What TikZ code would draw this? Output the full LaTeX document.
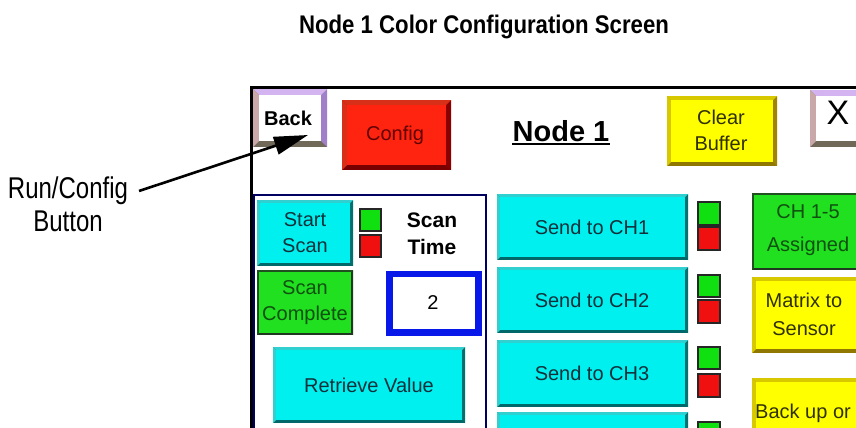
\documentclass[tikz,border=0pt]{standalone}
\usepackage{fontspec}
\setmainfont{Liberation Sans}
\newfontfamily\titlefont[FakeStretch=0.87]{Liberation Sans}
\newfontfamily\labelfont[FakeStretch=0.8]{Liberation Sans}
\usetikzlibrary{arrows.meta}
% colours
\definecolor{cyF}{HTML}{00F0F0}\definecolor{cyT}{HTML}{30D0D0}\definecolor{cyL}{HTML}{30D0D0}\definecolor{cyR}{HTML}{007070}\definecolor{cyB}{HTML}{006868}
\definecolor{rdF}{HTML}{FF2410}\definecolor{rdT}{HTML}{D83018}\definecolor{rdL}{HTML}{D83018}\definecolor{rdR}{HTML}{8A0000}\definecolor{rdB}{HTML}{780000}
\definecolor{ylF}{HTML}{FFFF00}\definecolor{ylT}{HTML}{D8C800}\definecolor{ylL}{HTML}{D8C800}\definecolor{ylR}{HTML}{A08400}\definecolor{ylB}{HTML}{907800}
\definecolor{wtF}{HTML}{FFFFFF}\definecolor{wtT}{HTML}{D4B4F0}\definecolor{wtL}{HTML}{C8A8A8}\definecolor{wtR}{HTML}{A080C8}\definecolor{wtB}{HTML}{706858}
\definecolor{gnF}{HTML}{20E020}\definecolor{gnT}{HTML}{205020}\definecolor{gnL}{HTML}{205020}\definecolor{gnR}{HTML}{203820}\definecolor{gnB}{HTML}{203820}
\definecolor{sqG}{HTML}{10E010}\definecolor{sqR}{HTML}{F01010}
\definecolor{navy}{HTML}{000060}\definecolor{boxblue}{HTML}{0818E8}
\definecolor{txcy}{HTML}{10303A}\definecolor{txrd}{HTML}{600000}\definecolor{txyl}{HTML}{303000}\definecolor{txgn}{HTML}{105010}
% bevelled button: x1 y1 x2 y2 bevel colourprefix
\newcommand\bevbox[6]{%
  \fill[#6B] (#1,#2) rectangle (#3,#4);
  \fill[#6R] (#3,#2) -- (#3,#4) -- (#3-#5,#4-#5) -- (#3-#5,#2+#5) -- cycle;
  \fill[#6T] (#1,#2) -- (#3,#2) -- (#3-#5,#2+#5) -- (#1+#5,#2+#5) -- cycle;
  \fill[#6L] (#1,#2) -- (#1+#5,#2+#5) -- (#1+#5,#4-#5) -- (#1,#4) -- cycle;
  \fill[#6F] (#1+#5,#2+#5) rectangle (#3-#5,#4-#5);
}
\tikzset{
  btxt/.style={inner sep=0pt, align=center, font=\fontsize{20}{26}\selectfont},
  sq/.style={draw=black!85, line width=1.2pt},
}
\begin{document}
\begin{tikzpicture}[x=1pt,y=-1pt]
\useasboundingbox (0,0) rectangle (856,428);
\clip (0,0) rectangle (856,428);
\fill[white] (0,0) rectangle (856,428);

% title
\node[inner sep=0pt] (title) at (484,27) {\titlefont\bfseries\fontsize{25.5}{30}\selectfont Node 1 Color Configuration Screen};

% screen frame
\draw[line width=3pt] (251,470) -- (251,87) -- (900,87);

% top row buttons
\bevbox{253}{89}{327}{147}{6}{wt}
\node[btxt, font=\fontsize{20}{24}\selectfont\bfseries] (back) at (288,118) {Back};
\bevbox{342}{100}{451}{170}{5}{rd}
\node[btxt, text=txrd] (config) at (395,135) {Config};
\node[inner sep=0pt, font=\fontsize{29}{34}\selectfont\bfseries] (node1) at (561,131) {Node 1};
\draw[line width=2pt] ([yshift=-3pt]node1.base west) -- ([yshift=-3pt]node1.base east);
\bevbox{667}{96}{777}{166}{4}{yl}
\node[btxt, text=txyl] (clear) at (721,130) {Clear\\Buffer};
\bevbox{810}{90}{880}{147}{6}{wt}
\node[inner sep=0pt, font=\fontsize{34}{40}\selectfont] (xbtn) at (838,113) {X};

% left panel
\draw[navy, line width=2.5pt] (254,470) -- (254,195) -- (486,195) -- (486,470);
\bevbox{257}{200}{353}{266}{3}{cy}
\node[btxt, text=txcy] (start) at (305,233) {Start\\Scan};
\draw[sq, fill=sqG] (360,209) rectangle (381,231);
\draw[sq, fill=sqR] (360,235) rectangle (381,257);
\node[btxt, font=\fontsize{21}{27}\selectfont\bfseries] (scantime) at (432,234) {Scan\\Time};
\bevbox{257}{270}{353}{335}{2}{gn}
\node[btxt, text=txgn] (complete) at (305,303) {Scan\\Complete};
\fill[boxblue] (386,271) rectangle (482,336);
\fill[white] (393,277) rectangle (475,329);
\node[btxt] (val) at (433,303) {2};
\bevbox{273}{347}{465}{423}{3}{cy}
\node[btxt, text=txcy] (retrieve) at (369,385) {Retrieve Value};

% send buttons
\bevbox{497}{194}{688}{260}{3}{cy}
\node[btxt, text=txcy] (ch1) at (592,227) {Send to CH1};
\bevbox{497}{267}{688}{333}{3}{cy}
\node[btxt, text=txcy] (ch2) at (592,300) {Send to CH2};
\bevbox{497}{340}{688}{407}{3}{cy}
\node[btxt, text=txcy] (ch3) at (592,373) {Send to CH3};
\bevbox{497}{412}{688}{480}{3}{cy}
\draw[sq, fill=sqG] (698,202) rectangle (720,225);
\draw[sq, fill=sqR] (698,227) rectangle (720,250);
\draw[sq, fill=sqG] (698,275) rectangle (720,297);
\draw[sq, fill=sqR] (698,300) rectangle (720,323);
\draw[sq, fill=sqG] (698,347) rectangle (720,369);
\draw[sq, fill=sqR] (698,374) rectangle (720,397);
\draw[sq, fill=sqG] (698,422) rectangle (720,444);

% right column
\bevbox{752}{193}{880}{270}{2}{gn}
\node[btxt, text=txgn, font=\fontsize{20}{33}\selectfont] (assigned) at (808,230) {CH 1-5\\Assigned};
\bevbox{752}{277}{880}{353}{4}{yl}
\node[btxt, text=txyl, font=\fontsize{20}{28}\selectfont] (matrix) at (804,314) {Matrix to\\Sensor};
\bevbox{752}{378}{880}{470}{4}{yl}
\node[btxt, text=txyl, anchor=west] (backup) at (755,413) {Back up or};

% callout
\node[inner sep=0pt, align=center, font=\labelfont\fontsize{30}{33}\selectfont] (lbl) at (68,204) {Run/Config\\Button};
\coordinate (start) at (139,191);
\coordinate (tip) at (308,135);
\draw[line width=2.6pt, -{Triangle[length=34pt,width=18pt]}] (start) -- (tip);
\end{tikzpicture}
\end{document}
